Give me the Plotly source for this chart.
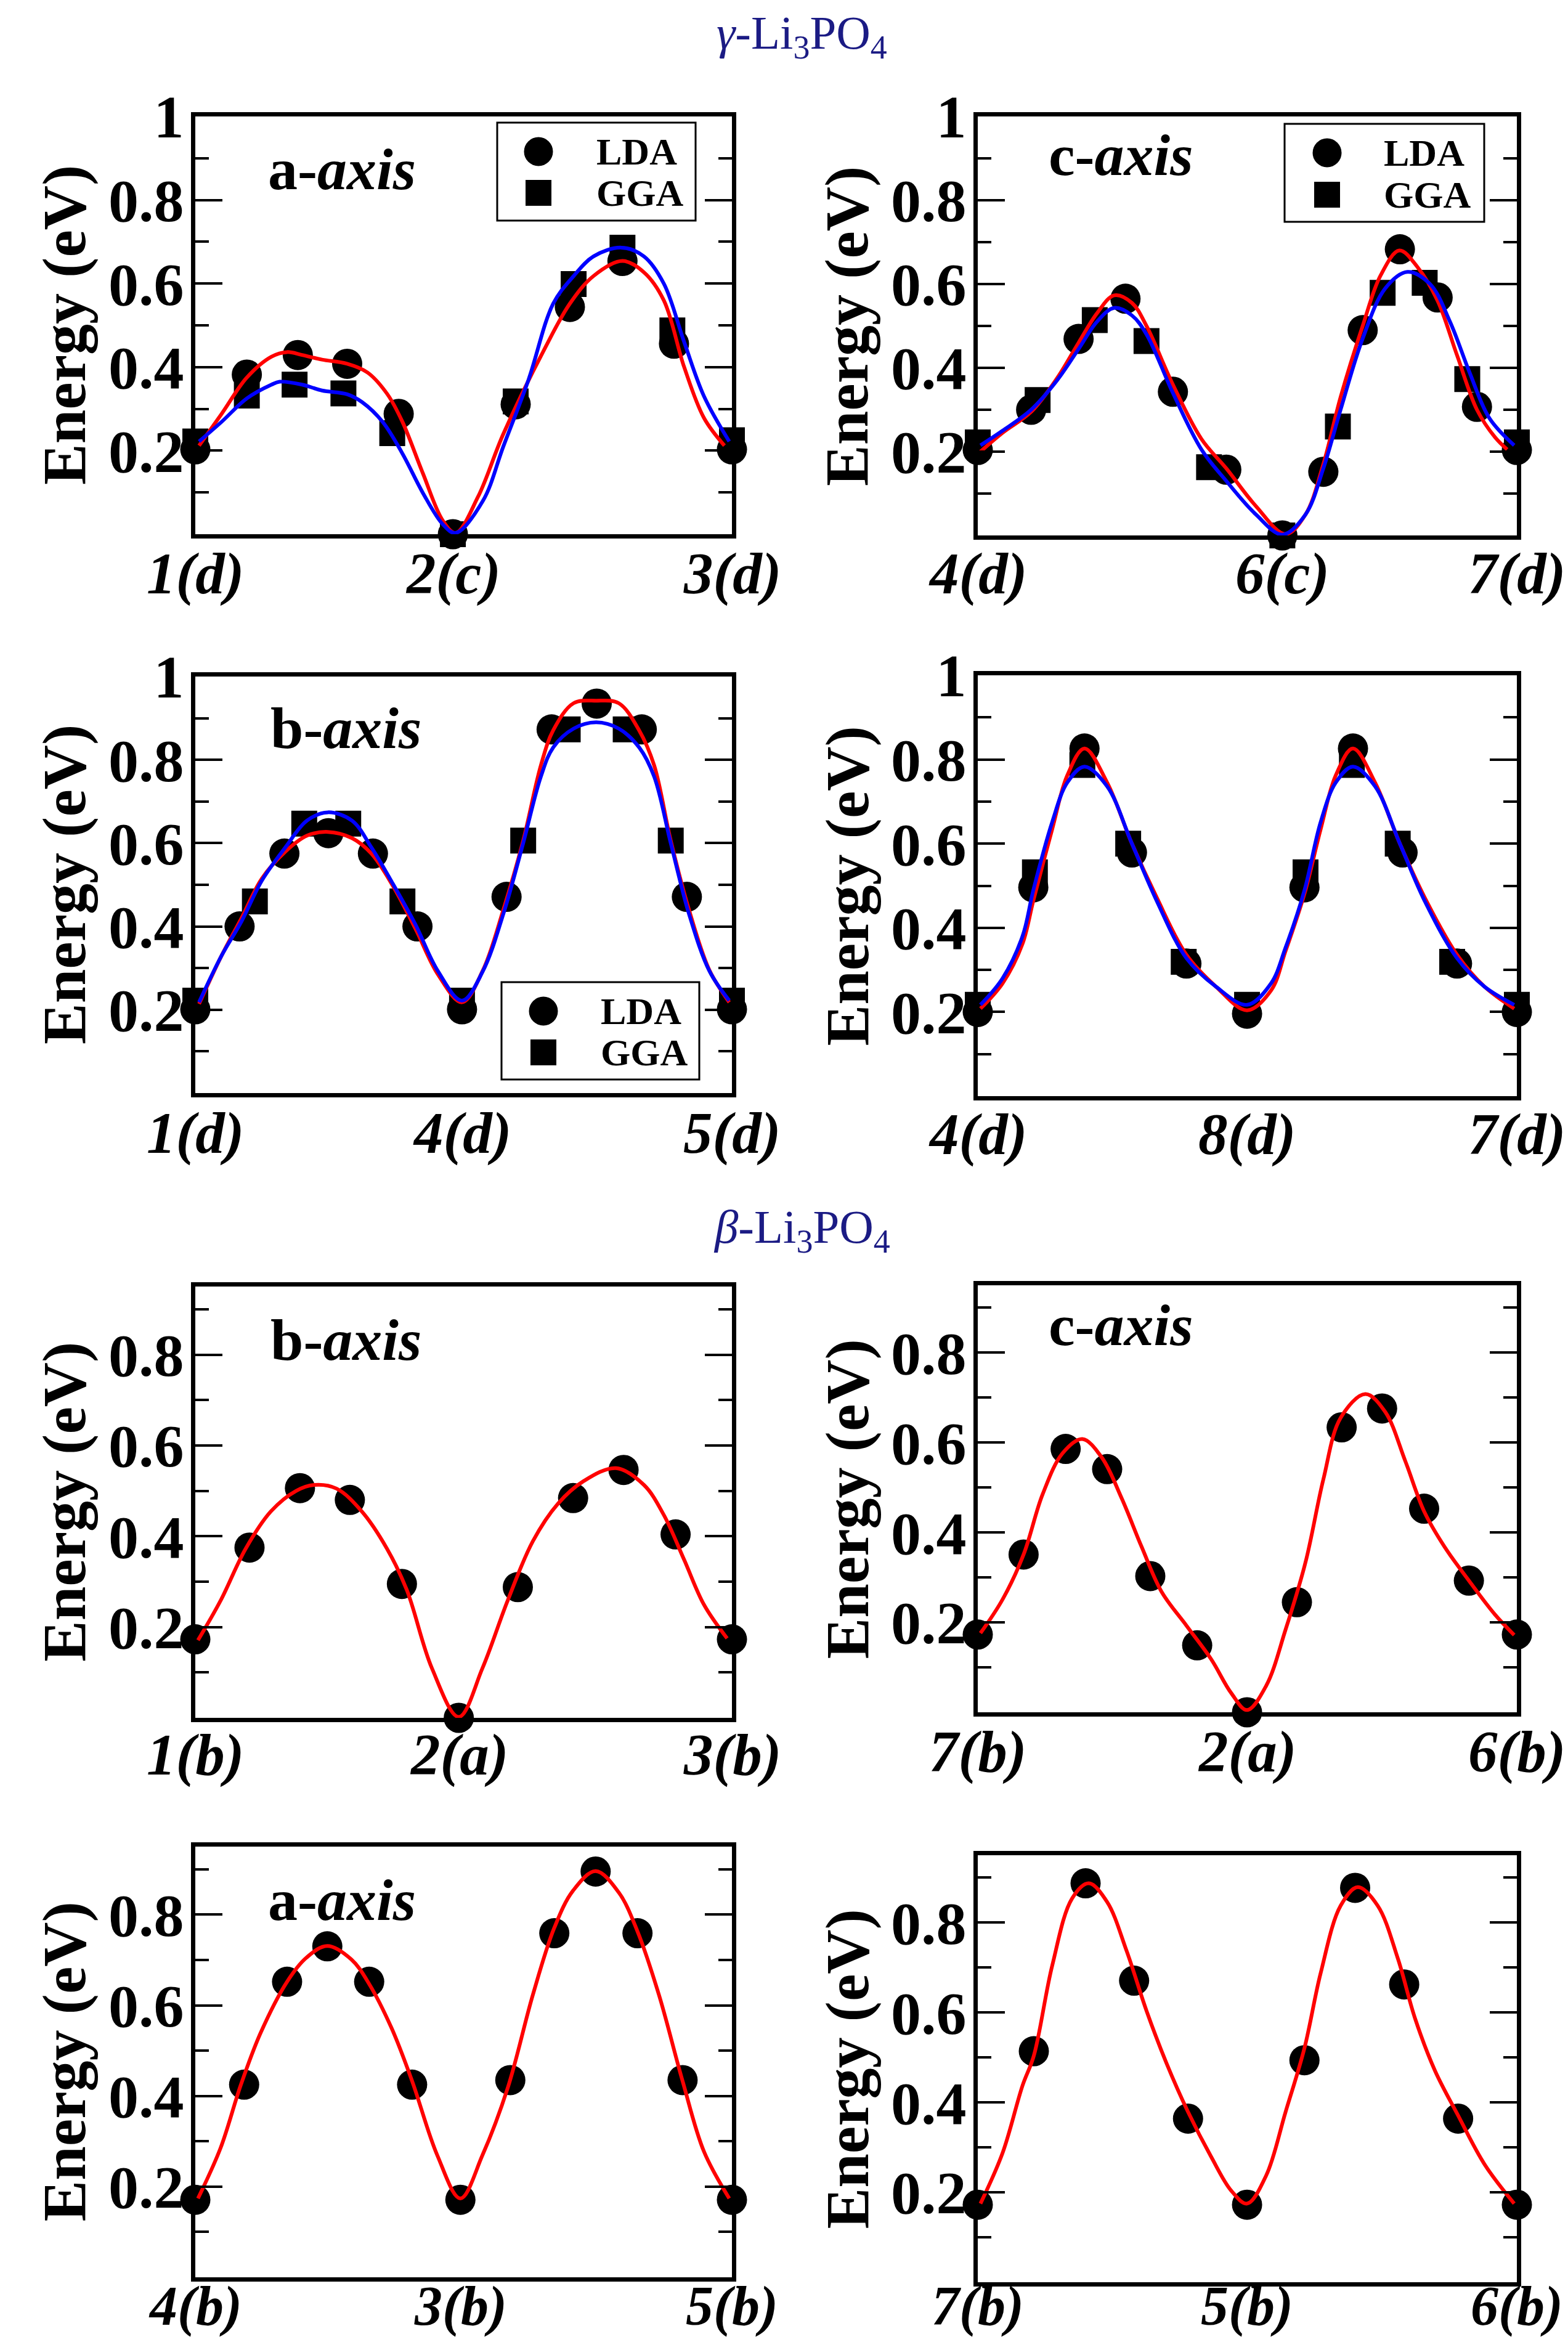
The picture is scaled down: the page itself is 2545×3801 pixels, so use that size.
import plotly.graph_objects as go

W, H = 2545, 3801
FONT = "Liberation Serif"

# ===================== DATA =====================
# gamma-Li3PO4, a-axis : 1(d) -> 2(c) -> 3(d)
ga_ticks = [0.0, 0.480, 1.0]
ga_ticktext = ["1(d)", "2(c)", "3(d)"]
ga_lda_x = [0, 0.096, 0.191, 0.283, 0.379, 0.480, 0.597, 0.698, 0.796, 0.892, 1.0]
ga_lda_y = [0.203, 0.382, 0.429, 0.408, 0.288, 0.0, 0.311, 0.544, 0.654, 0.456, 0.203]
ga_gga_x = [0, 0.096, 0.185, 0.276, 0.367, 0.480, 0.597, 0.705, 0.796, 0.889, 1.0]
ga_gga_y = [0.222, 0.332, 0.358, 0.337, 0.242, 0.0, 0.318, 0.599, 0.686, 0.488, 0.225]
ga_fitl_x = [0.007, 0.049, 0.096, 0.142, 0.171, 0.199, 0.236, 0.283, 0.321, 0.358, 0.386, 0.424,
             0.461, 0.485, 0.527, 0.574, 0.649, 0.698, 0.742, 0.796, 0.836, 0.873, 0.911, 0.948, 0.986]
ga_fitl_y = [0.212, 0.288, 0.375, 0.425, 0.436, 0.429, 0.418, 0.408, 0.387, 0.335, 0.269, 0.146,
             0.033, 0.003, 0.09, 0.24, 0.439, 0.552, 0.618, 0.654, 0.627, 0.56, 0.40, 0.278, 0.212]
ga_fitg_x = [0.007, 0.049, 0.096, 0.142, 0.157, 0.199, 0.236, 0.283, 0.311, 0.349, 0.386, 0.424, 0.461,
             0.485, 0.536, 0.574, 0.621, 0.667, 0.705, 0.742, 0.794, 0.836, 0.873, 0.911, 0.948, 0.995]
ga_fitg_y = [0.222, 0.269, 0.325, 0.358, 0.365, 0.358, 0.344, 0.335, 0.316, 0.269, 0.193, 0.099, 0.024,
             0.003, 0.08, 0.21, 0.37, 0.552, 0.618, 0.665, 0.686, 0.665, 0.60, 0.46, 0.33, 0.222]

# gamma-Li3PO4, c-axis : 4(d) -> 6(c) -> 7(d)
gc_ticks = [0.0, 0.565, 1.0]
gc_ticktext = ["4(d)", "6(c)", "7(d)"]
gc_lda_x = [0, 0.099, 0.187, 0.274, 0.362, 0.461, 0.565, 0.641, 0.714, 0.783, 0.853, 0.926, 1.0]
gc_lda_y = [0.204, 0.30, 0.469, 0.565, 0.343, 0.157, 0.0, 0.152, 0.490, 0.683, 0.568, 0.307, 0.204]
gc_gga_x = [0, 0.111, 0.217, 0.313, 0.429, 0.565, 0.668, 0.751, 0.829, 0.908, 1.0]
gc_gga_y = [0.222, 0.323, 0.514, 0.464, 0.163, 0.0, 0.26, 0.579, 0.603, 0.373, 0.222]
gc_fitl_x = [0.005, 0.046, 0.099, 0.147, 0.187, 0.221, 0.253, 0.286, 0.313, 0.362, 0.415, 0.461, 0.516,
             0.571, 0.608, 0.641, 0.673, 0.714, 0.747, 0.782, 0.816, 0.853, 0.889, 0.926, 0.959, 0.982]
gc_fitl_y = [0.20, 0.245, 0.295, 0.375, 0.46, 0.53, 0.573, 0.555, 0.50, 0.36, 0.23, 0.16, 0.07,
             0.003, 0.05, 0.17, 0.33, 0.50, 0.62, 0.68, 0.64, 0.56, 0.43, 0.30, 0.235, 0.205]
gc_fitg_x = [0.005, 0.046, 0.099, 0.147, 0.187, 0.221, 0.253, 0.286, 0.313, 0.362, 0.415, 0.461, 0.516,
             0.565, 0.608, 0.641, 0.673, 0.714, 0.756, 0.797, 0.839, 0.876, 0.912, 0.949, 0.995]
gc_fitg_y = [0.215, 0.25, 0.30, 0.37, 0.445, 0.51, 0.543, 0.525, 0.48, 0.34, 0.205, 0.13, 0.05,
             0.002, 0.05, 0.16, 0.30, 0.47, 0.59, 0.629, 0.60, 0.51, 0.39, 0.28, 0.215]

# gamma-Li3PO4, b-axis : 1(d) -> 4(d) -> 5(d)
gb_ticks = [0.0, 0.497, 1.0]
gb_ticktext = ["1(d)", "4(d)", "5(d)"]
gb_lda_x = [0, 0.0825, 0.166, 0.248, 0.331, 0.414, 0.497, 0.580, 0.664, 0.748, 0.832, 0.916, 1.0]
gb_lda_y = [0.201, 0.40, 0.575, 0.624, 0.575, 0.40, 0.201, 0.471, 0.873, 0.935, 0.873, 0.471, 0.201]
gb_gga_x = [0, 0.111, 0.203, 0.285, 0.386, 0.497, 0.611, 0.694, 0.802, 0.886, 1.0]
gb_gga_y = [0.222, 0.46, 0.647, 0.647, 0.46, 0.222, 0.606, 0.873, 0.873, 0.606, 0.222]
gb_fit_x = [0.007, 0.049, 0.086, 0.124, 0.168, 0.208, 0.247, 0.292, 0.328, 0.367, 0.410, 0.452, 0.497, 0.536,
            0.574, 0.611, 0.644, 0.667, 0.705, 0.747, 0.789, 0.827, 0.855, 0.886, 0.920, 0.958, 0.995]
gb_fitl_y = [0.214, 0.33, 0.42, 0.515, 0.58, 0.618, 0.627, 0.612, 0.575, 0.50, 0.395, 0.285, 0.218, 0.295,
             0.44, 0.606, 0.787, 0.871, 0.936, 0.942, 0.936, 0.871, 0.787, 0.606, 0.44, 0.295, 0.218]
gb_fitg_y = [0.218, 0.33, 0.412, 0.51, 0.59, 0.654, 0.674, 0.654, 0.59, 0.505, 0.405, 0.293, 0.222, 0.293,
             0.43, 0.60, 0.76, 0.83, 0.875, 0.89, 0.875, 0.83, 0.76, 0.60, 0.43, 0.293, 0.222]

# gamma-Li3PO4 : 4(d) -> 8(d) -> 7(d)
gd_ticks = [0.0, 0.4995, 1.0]
gd_ticktext = ["4(d)", "8(d)", "7(d)"]
gd_lda_x = [0, 0.103, 0.198, 0.286, 0.387, 0.4995, 0.606, 0.696, 0.788, 0.889, 1.0]
gd_lda_y = [0.20, 0.496, 0.826, 0.579, 0.315, 0.196, 0.496, 0.826, 0.579, 0.315, 0.20]
gd_gga_x = [0, 0.106, 0.194, 0.279, 0.382, 0.4995, 0.608, 0.694, 0.779, 0.880, 1.0]
gd_gga_y = [0.217, 0.532, 0.787, 0.60, 0.319, 0.217, 0.532, 0.787, 0.60, 0.319, 0.217]
gd_fit_x = [0.005, 0.046, 0.083, 0.103, 0.138, 0.166, 0.198, 0.240, 0.286, 0.332, 0.387, 0.442, 0.4995,
            0.544, 0.571, 0.606, 0.636, 0.664, 0.696, 0.737, 0.783, 0.829, 0.889, 0.940, 0.995]
gd_fitl_y = [0.208, 0.268, 0.362, 0.464, 0.634, 0.762, 0.826, 0.745, 0.60, 0.472, 0.336, 0.26, 0.204,
             0.251, 0.345, 0.481, 0.634, 0.762, 0.826, 0.745, 0.60, 0.472, 0.336, 0.26, 0.208]
gd_fitg_y = [0.217, 0.28, 0.38, 0.489, 0.651, 0.745, 0.783, 0.736, 0.60, 0.464, 0.328, 0.26, 0.217,
             0.268, 0.353, 0.489, 0.651, 0.745, 0.783, 0.736, 0.60, 0.464, 0.328, 0.26, 0.217]

# beta-Li3PO4, b-axis : 1(b) -> 2(a) -> 3(b)
bb_ticks = [0.0, 0.491, 1.0]
bb_ticktext = ["1(b)", "2(a)", "3(b)"]
bb_lda_x = [0, 0.101, 0.195, 0.288, 0.385, 0.491, 0.601, 0.704, 0.798, 0.895, 1.0]
bb_lda_y = [0.173, 0.375, 0.506, 0.48, 0.295, 0.0, 0.288, 0.484, 0.546, 0.404, 0.173]
bb_fit_x = [0.005, 0.047, 0.094, 0.141, 0.188, 0.221, 0.263, 0.310, 0.357, 0.394, 0.441, 0.491,
            0.535, 0.582, 0.629, 0.676, 0.723, 0.784, 0.836, 0.873, 0.911, 0.948, 0.991]
bb_fit_y = [0.171, 0.258, 0.373, 0.455, 0.50, 0.513, 0.505, 0.455, 0.373, 0.282, 0.109, 0.002,
            0.109, 0.258, 0.389, 0.472, 0.521, 0.55, 0.513, 0.447, 0.348, 0.249, 0.175]

# beta-Li3PO4, c-axis : 7(b) -> 2(a) -> 6(b)
bc_ticks = [0.0, 0.4995, 1.0]
bc_ticktext = ["7(b)", "2(a)", "6(b)"]
bc_lda_x = [0, 0.085, 0.163, 0.240, 0.320, 0.407, 0.4995, 0.592, 0.675, 0.750, 0.828, 0.911, 1.0]
bc_lda_y = [0.173, 0.351, 0.586, 0.541, 0.303, 0.149, 0.0, 0.245, 0.634, 0.676, 0.453, 0.293, 0.173]
bc_fit_x = [0.005, 0.046, 0.085, 0.120, 0.157, 0.194, 0.230, 0.267, 0.304, 0.341, 0.387, 0.433, 0.470, 0.4995,
            0.535, 0.571, 0.608, 0.641, 0.673, 0.719, 0.756, 0.793, 0.828, 0.866, 0.911, 0.959, 0.995]
bc_fit_y = [0.176, 0.251, 0.351, 0.484, 0.576, 0.608, 0.567, 0.476, 0.368, 0.268, 0.193, 0.118, 0.043, 0.005,
            0.059, 0.184, 0.334, 0.518, 0.655, 0.708, 0.668, 0.559, 0.447, 0.368, 0.293, 0.218, 0.172]

# beta-Li3PO4, a-axis : 4(b) -> 3(b) -> 5(b)
ba_ticks = [0.0, 0.494, 1.0]
ba_ticktext = ["4(b)", "3(b)", "5(b)"]
ba_lda_x = [0, 0.091, 0.171, 0.246, 0.324, 0.404, 0.494, 0.587, 0.669, 0.746, 0.824, 0.908, 1.0]
ba_lda_y = [0.171, 0.425, 0.652, 0.73, 0.652, 0.425, 0.171, 0.435, 0.759, 0.895, 0.759, 0.435, 0.171]
ba_fit_x = [0.005, 0.047, 0.085, 0.122, 0.171, 0.207, 0.246, 0.291, 0.324, 0.366, 0.404, 0.451, 0.494,
            0.535, 0.582, 0.629, 0.669, 0.704, 0.746, 0.789, 0.824, 0.864, 0.908, 0.948, 0.995]
ba_fit_y = [0.174, 0.285, 0.425, 0.54, 0.652, 0.705, 0.731, 0.701, 0.647, 0.549, 0.433, 0.269, 0.174,
            0.269, 0.417, 0.623, 0.771, 0.853, 0.896, 0.849, 0.763, 0.623, 0.433, 0.277, 0.174]

# beta-Li3PO4 : 7(b) -> 5(b) -> 6(b)
bd_ticks = [0.0, 0.4995, 1.0]
bd_ticktext = ["7(b)", "5(b)", "6(b)"]
bd_lda_x = [0, 0.104, 0.200, 0.290, 0.390, 0.4995, 0.606, 0.700, 0.791, 0.891, 1.0]
bd_lda_y = [0.1725, 0.514, 0.8875, 0.671, 0.364, 0.1725, 0.494, 0.8775, 0.6625, 0.364, 0.1725]
bd_fit_x = [0.005, 0.046, 0.083, 0.104, 0.138, 0.175, 0.206, 0.240, 0.276, 0.313, 0.350, 0.390, 0.433, 0.470,
            0.4995, 0.535, 0.571, 0.606, 0.636, 0.673, 0.705, 0.742, 0.779, 0.811, 0.848, 0.891, 0.940, 0.995]
bd_fit_y = [0.175, 0.2875, 0.4375, 0.504, 0.704, 0.854, 0.8875, 0.846, 0.7375, 0.604, 0.4875, 0.379, 0.279, 0.204,
            0.175, 0.2375, 0.379, 0.521, 0.6875, 0.8375, 0.879, 0.8375, 0.721, 0.5875, 0.471, 0.371, 0.2625, 0.175]

gamma_yticks = [0.2, 0.4, 0.6, 0.8, 1.0]
gamma_yticktext = ["0.2", "0.4", "0.6", "0.8", "1"]
beta_yticks = [0.2, 0.4, 0.6, 0.8]
beta_yticktext = ["0.2", "0.4", "0.6", "0.8"]
minor_yticks = [0.1, 0.3, 0.5, 0.7, 0.9]

# ===================== LAYOUT (pixel boxes: x0, x1, ytop, ybottom) =====================
panels = [
    dict(box=(317, 1188, 189, 867), yr=[0, 1], yt=gamma_yticks, ytt=gamma_yticktext,
         xt=ga_ticks, xtt=ga_ticktext, lda=(ga_lda_x, ga_lda_y), gga=(ga_gga_x, ga_gga_y),
         fitl=(ga_fitl_x, ga_fitl_y), fitg=(ga_fitg_x, ga_fitg_y),
         label=("a-", "axis", 433, 303), xlab_y=931, xlab_size=95,
         legend=dict(rect=(807, 1129, 199, 358), c=(874, 246), s=(874, 313), tx=966)),
    dict(box=(1587, 2462, 189, 869), yr=[0, 1], yt=gamma_yticks, ytt=gamma_yticktext,
         xt=gc_ticks, xtt=gc_ticktext, lda=(gc_lda_x, gc_lda_y), gga=(gc_gga_x, gc_gga_y),
         fitl=(gc_fitl_x, gc_fitl_y), fitg=(gc_fitg_x, gc_fitg_y),
         label=("c-", "axis", 1700, 281), xlab_y=931, xlab_size=95,
         legend=dict(rect=(2085, 2409, 201, 360), c=(2154, 248), s=(2154, 316), tx=2244)),
    dict(box=(317, 1188, 1098, 1774), yr=[0, 1], yt=gamma_yticks, ytt=gamma_yticktext,
         xt=gb_ticks, xtt=gb_ticktext, lda=(gb_lda_x, gb_lda_y), gga=(gb_gga_x, gb_gga_y),
         fitl=(gb_fit_x, gb_fitl_y), fitg=(gb_fit_x, gb_fitg_y),
         label=("b-", "axis", 437, 1210), xlab_y=1839, xlab_size=95,
         legend=dict(rect=(814, 1135, 1594, 1752), c=(882, 1641), s=(882, 1708), tx=973)),
    dict(box=(1587, 2462, 1096, 1779), yr=[0, 1], yt=gamma_yticks, ytt=gamma_yticktext,
         xt=gd_ticks, xtt=gd_ticktext, lda=(gd_lda_x, gd_lda_y), gga=(gd_gga_x, gd_gga_y),
         fitl=(gd_fit_x, gd_fitl_y), fitg=(gd_fit_x, gd_fitg_y), label=None, legend=None,
         xlab_y=1841, xlab_size=95),
    dict(box=(317, 1188, 2088, 2788), yr=[0, 0.95], yt=beta_yticks, ytt=beta_yticktext,
         xt=bb_ticks, xtt=bb_ticktext, lda=(bb_lda_x, bb_lda_y), gga=None,
         fitl=(bb_fit_x, bb_fit_y), fitg=None, label=("b-", "axis", 437, 2203), legend=None,
         xlab_y=2848, xlab_size=95),
    dict(box=(1587, 2462, 2086, 2779), yr=[0, 0.95], yt=beta_yticks, ytt=beta_yticktext,
         xt=bc_ticks, xtt=bc_ticktext, lda=(bc_lda_x, bc_lda_y), gga=None,
         fitl=(bc_fit_x, bc_fit_y), fitg=None, label=("c-", "axis", 1700, 2179), legend=None,
         xlab_y=2843, xlab_size=95),
    dict(box=(317, 1188, 2997, 3696), yr=[0, 0.95], yt=beta_yticks, ytt=beta_yticktext,
         xt=ba_ticks, xtt=ba_ticktext, lda=(ba_lda_x, ba_lda_y), gga=None,
         fitl=(ba_fit_x, ba_fit_y), fitg=None, label=("a-", "axis", 433, 3112), legend=None,
         xlab_y=3743, xlab_size=90),
    dict(box=(1587, 2462, 3011, 3704), yr=[0, 0.95], yt=beta_yticks, ytt=beta_yticktext,
         xt=bd_ticks, xtt=bd_ticktext, lda=(bd_lda_x, bd_lda_y), gga=None,
         fitl=(bd_fit_x, bd_fit_y), fitg=None, label=None, legend=None,
         xlab_y=3743, xlab_size=90),
]

fig = go.Figure()
layout = dict(width=W, height=H, margin=dict(l=0, r=0, t=0, b=0, autoexpand=False),
              template="none",
              paper_bgcolor="white", plot_bgcolor="white", showlegend=False)
annotations = []
shapes = []

CIRCLE = 49
SQUARE = 42
LW = 6

for i, p in enumerate(panels, start=1):
    x0, x1, yt, yb = p["box"]
    xa = "x" if i == 1 else f"x{i}"
    ya = "y" if i == 1 else f"y{i}"
    xkey = "xaxis" if i == 1 else f"xaxis{i}"
    ykey = "yaxis" if i == 1 else f"yaxis{i}"
    layout[xkey] = dict(domain=[x0 / W, x1 / W], anchor=ya, range=[0, 1], automargin=False,
                        showline=True, linewidth=7, linecolor="black", mirror=True,
                        ticks="", showticklabels=False,
                        showgrid=False, zeroline=False, fixedrange=True)
    layout[ykey] = dict(domain=[1 - yb / H, 1 - yt / H], anchor=xa, range=p["yr"], automargin=False,
                        showline=True, linewidth=7, linecolor="black", mirror="ticks",
                        ticks="inside", ticklen=44, tickwidth=4, tickcolor="black",
                        tickmode="array", tickvals=p["yt"], ticktext=p["ytt"],
                        tickfont=dict(family=FONT, size=98, color="black", weight="bold"),
                        ticklabelstandoff=-8,
                        minor=dict(tickmode="array", tickvals=minor_yticks, ticks="inside",
                                   ticklen=22, tickwidth=4, tickcolor="black", showgrid=False),
                        showgrid=False, zeroline=False, fixedrange=True)

    # markers
    fig.add_trace(go.Scatter(x=p["lda"][0], y=p["lda"][1], mode="markers", xaxis=xa, yaxis=ya,
                             marker=dict(symbol="circle", size=CIRCLE, color="black", line=dict(width=0)),
                             cliponaxis=False, name="LDA"))
    if p["gga"] is not None:
        fig.add_trace(go.Scatter(x=p["gga"][0], y=p["gga"][1], mode="markers", xaxis=xa, yaxis=ya,
                                 marker=dict(symbol="square", size=SQUARE, color="black", line=dict(width=0)),
                                 cliponaxis=False, name="GGA"))
    # fitted curves
    fig.add_trace(go.Scatter(x=p["fitl"][0], y=p["fitl"][1], mode="lines", xaxis=xa, yaxis=ya,
                             line=dict(color="#ff0000", width=LW, shape="spline", smoothing=1.0),
                             cliponaxis=False, name="LDA fit"))
    if p["fitg"] is not None:
        fig.add_trace(go.Scatter(x=p["fitg"][0], y=p["fitg"][1], mode="lines", xaxis=xa, yaxis=ya,
                                 line=dict(color="#0000ff", width=LW, shape="spline", smoothing=1.0),
                                 cliponaxis=False, name="GGA fit"))

    def dx(px, x0=x0, x1=x1):
        return (px - x0) / (x1 - x0)

    def dy(py, yt=yt, yb=yb):
        return (yb - py) / (yb - yt)

    # x tick labels (site labels) below each tick
    for tv, tt in zip(p["xt"], p["xtt"]):
        annotations.append(dict(text=f"<b><i>{tt}</i></b>", xref=xa, yref=f"{ya} domain",
                                x=tv, y=dy(p["xlab_y"]), xanchor="center", yanchor="middle",
                                showarrow=False,
                                font=dict(family=FONT, size=p["xlab_size"], color="black")))

    # y-axis title
    xc = 104 if x0 < 1000 else 1375
    annotations.append(dict(text="<b>Energy (eV)</b>", xref="paper", yref="paper",
                            x=xc / W, y=1 - (yt + yb) / 2 / H, xanchor="center", yanchor="middle",
                            textangle=-90, showarrow=False,
                            font=dict(family=FONT, size=100, color="black")))

    if p["label"]:
        a, b, lx, lbase = p["label"]
        annotations.append(dict(text=f"<b>{a}<i>{b}</i></b>", xref=f"{xa} domain", yref=f"{ya} domain",
                                x=dx(lx), y=dy(lbase - 29), xanchor="left", yanchor="middle",
                                showarrow=False, font=dict(family=FONT, size=96, color="black")))
    if p["legend"]:
        L = p["legend"]
        rx0, rx1, ry0, ry1 = L["rect"]
        shapes.append(dict(type="rect", xref=f"{xa} domain", yref=f"{ya} domain",
                           x0=dx(rx0), x1=dx(rx1), y0=dy(ry1), y1=dy(ry0),
                           line=dict(color="black", width=3), fillcolor="white", layer="above"))
        cx, cy = L["c"]
        r = 23.5
        shapes.append(dict(type="circle", xref=f"{xa} domain", yref=f"{ya} domain",
                           x0=dx(cx - r), x1=dx(cx + r), y0=dy(cy + r), y1=dy(cy - r),
                           line=dict(width=0), fillcolor="black", layer="above"))
        sx, sy = L["s"]
        h = 21
        shapes.append(dict(type="rect", xref=f"{xa} domain", yref=f"{ya} domain",
                           x0=dx(sx - h), x1=dx(sx + h), y0=dy(sy + h), y1=dy(sy - h),
                           line=dict(width=0), fillcolor="black", layer="above"))
        for txt, ty in (("LDA", cy), ("GGA", sy)):
            annotations.append(dict(text=f"<b>{txt}</b>", xref=f"{xa} domain", yref=f"{ya} domain",
                                    x=dx(L["tx"]), y=dy(ty), xanchor="left", yanchor="middle",
                                    showarrow=False, font=dict(family=FONT, size=62, color="black")))

# section titles
TITLE_COLOR = "#1b1b84"
annotations.append(dict(text="<i>γ</i>-Li<sub>3</sub>PO<sub>4</sub>", xref="paper", yref="paper",
                        x=1301 / W, y=1 - 58 / H, xanchor="center", yanchor="middle", showarrow=False,
                        font=dict(family=FONT, size=77, color=TITLE_COLOR)))
annotations.append(dict(text="<i>β</i>-Li<sub>3</sub>PO<sub>4</sub>", xref="paper", yref="paper",
                        x=1301 / W, y=1 - 1996 / H, xanchor="center", yanchor="middle", showarrow=False,
                        font=dict(family=FONT, size=77, color=TITLE_COLOR)))

layout["annotations"] = annotations
layout["shapes"] = shapes
fig.update_layout(**layout)
fig.write_html("out.html")
